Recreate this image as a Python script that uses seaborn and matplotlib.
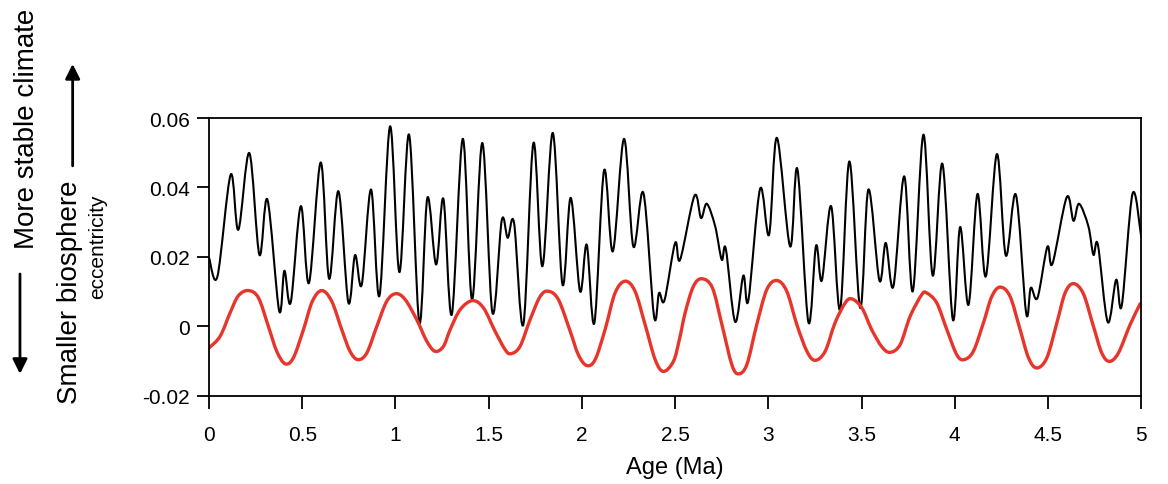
# -*- coding: utf-8 -*-
import numpy as np
import pandas as pd
import matplotlib
matplotlib.use('Agg')
import matplotlib.pyplot as plt
from matplotlib.path import Path
from matplotlib.patches import PathPatch, FancyArrowPatch
import seaborn as sns

# eccentricity (black), turning points
ecc_age = [0.000, 0.045, 0.116, 0.157, 0.216, 0.270, 0.313, 0.376, 0.404, 0.438,
           0.492, 0.536, 0.599, 0.644, 0.694, 0.747, 0.783, 0.819, 0.869, 0.914,
           0.971, 1.021, 1.073, 1.128, 1.171, 1.218, 1.257, 1.302, 1.361, 1.411,
           1.466, 1.520, 1.570, 1.602, 1.636, 1.686, 1.740, 1.788, 1.844, 1.896,
           1.940, 1.990, 2.026, 2.067, 2.119, 2.166, 2.226, 2.276, 2.330, 2.387,
           2.414, 2.443, 2.500, 2.527, 2.604, 2.639, 2.670, 2.715, 2.750, 2.772,
           2.822, 2.866, 2.893, 2.956, 3.004, 3.046, 3.117, 3.156, 3.215, 3.256,
           3.287, 3.337, 3.385, 3.435, 3.493, 3.537, 3.596, 3.630, 3.671, 3.729,
           3.775, 3.832, 3.882, 3.934, 3.990, 4.029, 4.074, 4.122, 4.167, 4.226,
           4.274, 4.328, 4.383, 4.408, 4.444, 4.497, 4.524, 4.601, 4.637, 4.667,
           4.717, 4.744, 4.768, 4.821, 4.866, 4.896, 4.954, 5.000]
ecc_val = [0.0197, 0.0144, 0.0437, 0.0278, 0.0499, 0.0206, 0.0365, 0.0045, 0.0160, 0.0069,
           0.0346, 0.0125, 0.0472, 0.0137, 0.0389, 0.0069, 0.0205, 0.0120, 0.0394, 0.0088,
           0.0576, 0.0156, 0.0552, 0.0010, 0.0370, 0.0178, 0.0367, 0.0034, 0.0540, 0.0077,
           0.0528, 0.0039, 0.0305, 0.0255, 0.0298, 0.0005, 0.0528, 0.0173, 0.0557, 0.0120,
           0.0370, 0.0101, 0.0235, 0.0010, 0.0449, 0.0216, 0.0540, 0.0230, 0.0384, 0.0029,
           0.0096, 0.0075, 0.0240, 0.0192, 0.0376, 0.0312, 0.0353, 0.0288, 0.0192, 0.0223,
           0.0013, 0.0146, 0.0075, 0.0396, 0.0264, 0.0543, 0.0230, 0.0453, 0.0012, 0.0232,
           0.0132, 0.0346, 0.0048, 0.0475, 0.0053, 0.0394, 0.0132, 0.0240, 0.0115, 0.0432,
           0.0101, 0.0552, 0.0146, 0.0468, 0.0019, 0.0286, 0.0062, 0.0381, 0.0144, 0.0496,
           0.0204, 0.0379, 0.0039, 0.0111, 0.0082, 0.0229, 0.0180, 0.0372, 0.0304, 0.0353,
           0.0288, 0.0206, 0.0235, 0.0012, 0.0134, 0.0060, 0.0382, 0.0259]

# red curve
red_age = [0.000, 0.059, 0.113, 0.157, 0.211, 0.265, 0.318, 0.363, 0.408, 0.452,
           0.506, 0.554, 0.605, 0.658, 0.712, 0.756, 0.798, 0.846, 0.900, 0.953,
           1.002, 1.052, 1.114, 1.168, 1.212, 1.257, 1.293, 1.347, 1.413, 1.472,
           1.534, 1.588, 1.619, 1.668, 1.722, 1.776, 1.820, 1.874, 1.937, 1.981,
           2.026, 2.071, 2.124, 2.178, 2.232, 2.285, 2.339, 2.393, 2.437, 2.491,
           2.523, 2.554, 2.598, 2.643, 2.700, 2.751, 2.804, 2.840, 2.885, 2.938,
           2.992, 3.046, 3.099, 3.153, 3.207, 3.251, 3.305, 3.358, 3.412, 3.448,
           3.502, 3.555, 3.609, 3.653, 3.707, 3.761, 3.823, 3.850, 3.904, 3.958,
           4.011, 4.050, 4.100, 4.154, 4.199, 4.244, 4.297, 4.351, 4.396, 4.440,
           4.494, 4.548, 4.592, 4.637, 4.690, 4.744, 4.789, 4.830, 4.878, 4.941,
           4.995]
red_val = [-0.0062, -0.0029, 0.0039, 0.0088, 0.0103, 0.0082, 0.0000, -0.0072, -0.0108, -0.0091,
           -0.0010, 0.0072, 0.0103, 0.0072, -0.0010, -0.0072, -0.0096, -0.0077, 0.0000, 0.0072,
           0.0094, 0.0077, 0.0019, -0.0043, -0.0072, -0.0058, -0.0010, 0.0048, 0.0074, 0.0053,
           -0.0014, -0.0067, -0.0079, -0.0058, 0.0019, 0.0086, 0.0101, 0.0077, -0.0014, -0.0082,
           -0.0113, -0.0096, -0.0010, 0.0096, 0.0130, 0.0101, 0.0005, -0.0096, -0.0130, -0.0101,
           -0.0038, 0.0039, 0.0115, 0.0137, 0.0111, 0.0005, -0.0110, -0.0137, -0.0110, 0.0005,
           0.0106, 0.0132, 0.0101, 0.0005, -0.0072, -0.0098, -0.0072, 0.0010, 0.0067, 0.0079,
           0.0053, -0.0010, -0.0059, -0.0075, -0.0053, 0.0029, 0.0091, 0.0096, 0.0067, -0.0010,
           -0.0082, -0.0096, -0.0072, 0.0010, 0.0086, 0.0113, 0.0086, -0.0010, -0.0091, -0.0120,
           -0.0091, 0.0010, 0.0096, 0.0123, 0.0094, 0.0000, -0.0077, -0.0101, -0.0077, 0.0005,
           0.0065]

xticks = [0, 0.5, 1, 1.5, 2, 2.5, 3, 3.5, 4, 4.5, 5]
xtick_labels = ['0', '0.5', '1', '1.5', '2', '2.5', '3', '3.5', '4', '4.5', '5']
yticks = [-0.02, 0, 0.02, 0.04, 0.06]
ytick_labels = ['-0.02', '0', '0.02', '0.04', '0.06']


def smooth_line(ax, xs, ys, **kw):
    # curve drawn through the read points (Catmull-Rom style bezier), so the
    # line looks smooth like the original instead of a zigzag
    p = np.column_stack([xs, ys])
    n = len(p)
    verts = [p[0]]
    codes = [Path.MOVETO]
    for i in range(n - 1):
        p0 = p[max(i - 1, 0)]
        p1 = p[i]
        p2 = p[i + 1]
        p3 = p[min(i + 2, n - 1)]
        verts += [p1 + (p2 - p0) / 6.0, p2 - (p3 - p1) / 6.0, p2]
        codes += [Path.CURVE4] * 3
    patch = PathPatch(Path(verts, codes), facecolor='none', capstyle='round',
                      joinstyle='round', **kw)
    ax.add_patch(patch)
    return patch


sns.set_style('ticks')
plt.rcParams['font.family'] = ['Liberation Sans', 'DejaVu Sans']
plt.rcParams['text.color'] = 'black'
plt.rcParams['xtick.color'] = 'black'
plt.rcParams['ytick.color'] = 'black'
plt.rcParams['axes.labelcolor'] = 'black'

fig = plt.figure(figsize=(11.68, 4.85), dpi=100)
ax = fig.add_axes([0.179, 0.182, 0.798, 0.5726])

smooth_line(ax, ecc_age, ecc_val, edgecolor='black', lw=1.5)
smooth_line(ax, red_age, red_val, edgecolor='#e8352b', lw=2.4)

ax.set_xlim(0, 5)
ax.set_ylim(-0.02, 0.06)
ax.set_xticks(xticks)
ax.set_xticklabels(xtick_labels)
ax.set_yticks(yticks)
ax.set_yticklabels(ytick_labels)
ax.tick_params(direction='out', length=9, width=1.3, colors='black', labelsize=15)
ax.tick_params(axis='x', pad=12)
ax.tick_params(axis='y', pad=5)
for sp in ax.spines.values():
    sp.set_visible(True)
    sp.set_linewidth(1.3)
    sp.set_color('black')
ax.set_xlabel('Age (Ma)', fontsize=17, labelpad=9)
ax.set_ylabel('')

# left-hand labels and arrows
fig.text(0.0230, 0.735, 'More stable climate', rotation=90, ha='center', va='center',
         fontsize=20)
fig.text(0.0600, 0.398, 'Smaller biosphere', rotation=90, ha='center', va='center',
         fontsize=20)
fig.text(0.0835, 0.492, 'eccentricity', rotation=90, ha='center', va='center',
         fontsize=15)
arrow = dict(arrowstyle='-|>', lw=2, color='black', mutation_scale=22, shrinkA=0, shrinkB=0)
fig.add_artist(FancyArrowPatch((0.0171, 0.433), (0.0171, 0.227),
                               transform=fig.transFigure, **arrow))
fig.add_artist(FancyArrowPatch((0.0622, 0.656), (0.0622, 0.866),
                               transform=fig.transFigure, **arrow))

fig.savefig('out.png', dpi=100, facecolor='white')
